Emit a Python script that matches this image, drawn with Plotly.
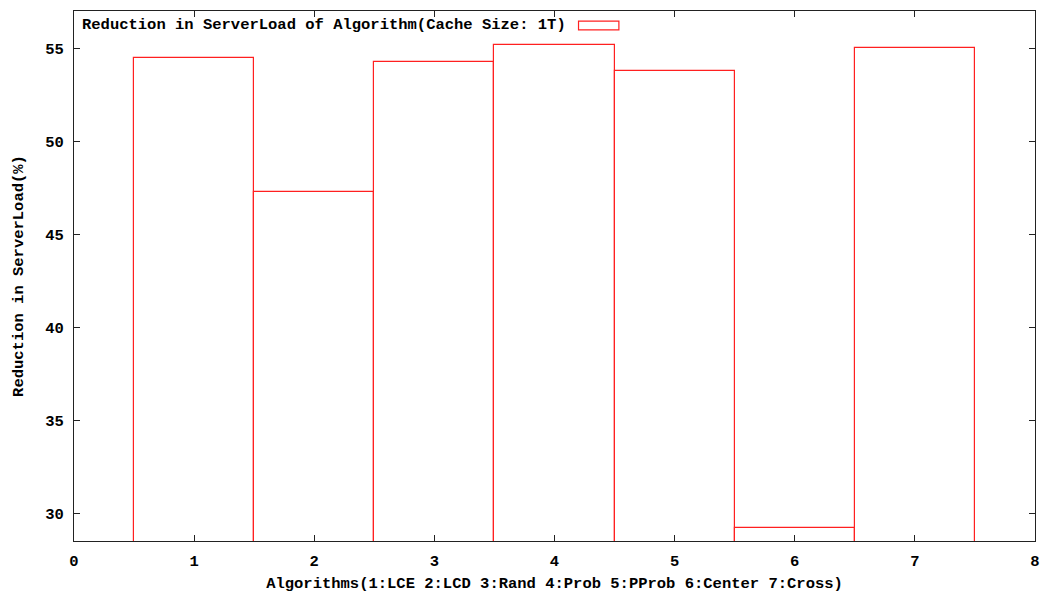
import plotly.graph_objects as go

# Reduction in server load for each caching algorithm (cache size 1T)
algorithms = [1, 2, 3, 4, 5, 6, 7]
reduction = [54.5, 47.3, 54.25, 55.2, 53.8, 29.2, 55.0]
x_ticks = [0, 1, 2, 3, 4, 5, 6, 7, 8]
y_ticks = [30, 35, 40, 45, 50, 55]

FONT = "Liberation Mono"
FS = 15.5
AXIS_COLOR = "#222222"
RED = "#ff2020"

fig = go.Figure()
fig.add_trace(go.Bar(
    x=algorithms,
    y=reduction,
    width=1.0,
    marker=dict(color="rgba(0,0,0,0)", line=dict(color=RED, width=1.2)),
    showlegend=False,
))

fig.update_layout(
    width=1040,
    height=594,
    margin=dict(l=74, r=5, t=11, b=53, autoexpand=False),
    paper_bgcolor="white",
    plot_bgcolor="white",
    font=dict(family=FONT, size=FS, color="black", weight="bold"),
    bargap=0,
    xaxis=dict(
        range=[0, 8],
        tickvals=x_ticks,
        ticktext=[str(v) for v in x_ticks],
        automargin=False,
        showgrid=False,
        zeroline=False,
        showline=True,
        linecolor=AXIS_COLOR,
        linewidth=1.2,
        mirror="ticks",
        ticks="inside",
        ticklen=6,
        tickcolor=AXIS_COLOR,
        ticklabelstandoff=5,
        tickfont=dict(family=FONT, size=FS, weight="bold"),
        title=dict(text="Algorithms(1:LCE 2:LCD 3:Rand 4:Prob 5:PProb 6:Center 7:Cross)",
                   font=dict(family=FONT, size=FS, weight="bold"), standoff=7),
    ),
    yaxis=dict(
        range=[28.52, 57.0],
        tickvals=y_ticks,
        automargin=False,
        showgrid=False,
        zeroline=False,
        showline=True,
        linecolor=AXIS_COLOR,
        linewidth=1.2,
        mirror="ticks",
        ticks="inside",
        ticklen=6,
        tickcolor=AXIS_COLOR,
        ticklabelstandoff=6,
        tickfont=dict(family=FONT, size=FS, weight="bold"),
        title=dict(text="Reduction in ServerLoad(%)",
                   font=dict(family=FONT, size=FS, weight="bold"), standoff=17),
    ),
)

# Key: label followed by a sample box, in the top-left corner of the plot
fig.add_annotation(
    xref="paper", yref="paper",
    x=0.0062, y=0.973,
    xanchor="left", yanchor="middle",
    text="Reduction in ServerLoad of Algorithm(Cache Size: 1T)",
    showarrow=False,
    font=dict(family=FONT, size=FS, color="black", weight="bold"),
)
fig.add_shape(
    type="rect", xref="paper", yref="paper",
    x0=0.525, x1=0.567, y0=0.9645, y1=0.981,
    line=dict(color=RED, width=1.2),
    fillcolor="rgba(0,0,0,0)",
)

fig.write_html("out.html")
